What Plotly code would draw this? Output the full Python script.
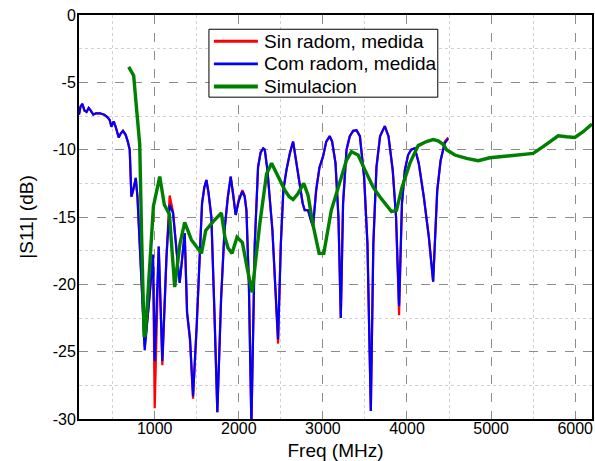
import plotly.graph_objects as go

# Measured, with radome (blue)
com_f = [100,118,140,165,190,215,240,270,300,350,400,440,465,485,512,536,572,596,623,655,680,703,
         723,745,775,795,822,850,881,930,980,1000,1048,1091,1140,1178,1218,1260,1297,1357,1385,1420,
         1456,1500,1535,1563,1590,1615,1640,1674,1710,1745,1790,1830,1870,1904,1930,1963,2000,2043,
         2070,2091,2120,2150,2190,2229,2260,2290,2309,2340,2400,2440,2467,2500,2530,2567,2610,2646,
         2680,2725,2760,2784,2824,2860,2883,2920,2960,3002,3040,3082,3110,3150,3185,3213,3240,3281,
         3320,3360,3400,3440,3490,3530,3570,3600,3637,3680,3736,3780,3830,3870,3906,3940,3975,4013,
         4050,4093,4140,4200,4260,4311,4360,4400,4450,4490]
com_db = [-7.4,-6.8,-6.6,-7.1,-7.2,-6.9,-7.1,-7.4,-7.3,-7.3,-7.4,-7.6,-7.8,-8.3,-7.9,-8.3,-9.1,-8.8,-8.6,-8.9,-9.4,-10.0,
          -13.5,-13.0,-12.1,-13.5,-17.0,-20.5,-24.9,-21.5,-17.8,-25.7,-17.2,-25.7,-18.0,-14.1,-14.7,-17.5,-19.9,-16.2,-22.1,-24.0,
          -28.3,-23.0,-17.4,-14.0,-12.8,-12.25,-13.2,-15.0,-22.0,-29.5,-21.0,-16.0,-13.5,-12.0,-13.2,-14.85,-13.8,-13.1,
          -13.5,-14.5,-20.0,-30.5,-17.0,-11.3,-10.2,-9.9,-10.0,-11.5,-16.0,-21.0,-24.1,-17.0,-13.0,-11.5,-10.2,-9.4,
          -10.8,-12.5,-14.0,-14.5,-14.5,-15.3,-15.7,-13.0,-11.3,-10.5,-9.4,-9.0,-9.4,-11.0,-15.0,-22.5,-14.0,-10.0,
          -9.0,-8.6,-8.55,-9.0,-12.0,-17.0,-29.4,-17.0,-11.3,-9.0,-8.25,-9.0,-11.5,-15.0,-21.6,-14.0,-11.5,-10.4,
          -10.0,-9.9,-11.0,-13.5,-16.5,-19.8,-13.0,-10.8,-9.5,-9.2]

# Measured, without radome (red)
sin_f = com_f
sin_db = [-7.4,-6.8,-6.6,-7.1,-7.2,-6.9,-7.1,-7.4,-7.3,-7.3,-7.4,-7.6,-7.8,-8.3,-7.9,-8.3,-9.1,-8.8,-8.6,-8.9,-9.4,-10.0,
          -13.5,-13.0,-12.1,-13.5,-17.0,-20.5,-24.6,-21.5,-17.8,-29.2,-17.2,-26.0,-18.0,-13.4,-14.6,-17.5,-19.9,-16.2,-22.1,-24.2,
          -28.5,-23.0,-17.4,-14.0,-12.8,-12.25,-13.2,-15.0,-22.0,-29.5,-21.0,-16.0,-13.5,-12.0,-13.2,-14.85,-13.7,-13.0,
          -13.4,-14.5,-20.0,-30.5,-17.0,-11.3,-10.2,-9.9,-10.0,-11.5,-16.0,-21.0,-24.4,-17.0,-13.0,-11.5,-10.2,-9.4,
          -10.8,-12.5,-14.0,-14.5,-14.5,-15.3,-15.7,-13.0,-11.3,-10.5,-9.4,-9.0,-9.4,-11.0,-15.0,-22.5,-14.0,-10.0,
          -9.0,-8.6,-8.55,-9.0,-12.0,-17.0,-29.4,-17.0,-11.3,-9.0,-8.25,-9.0,-11.5,-15.0,-22.3,-14.0,-11.5,-10.4,
          -10.0,-9.9,-11.0,-13.5,-16.5,-19.8,-13.0,-10.8,-9.4,-9.1]

# Simulation (green)
sim_f = [691,750,785,822,845,875,890,935,985,1060,1115,1175,1238,1300,1357,1437,1500,1556,1607,1700,1793,1835,
         1872,1920,1979,2043,2100,2158,2250,2330,2390,2450,2547,2600,2646,2700,2773,2824,2880,2955,3011,3100,
         3221,3280,3340,3419,3500,3600,3677,3760,3816,3875,3940,4035,4113,4133,4232,4311,4370,4430,4470,4569,
         4708,4846,4985,5184,5342,5500,5619,5798,5897,5996,6095,6200]
sim_db = [-3.85,-4.5,-7.0,-9.6,-16.5,-23.9,-23.7,-19.0,-14.2,-12.0,-14.1,-14.8,-20.2,-17.0,-15.4,-16.7,-17.2,-17.7,-16.0,-15.3,-14.7,-16.5,
          -17.3,-17.7,-16.5,-16.9,-18.8,-20.6,-15.5,-11.8,-11.0,-11.8,-13.0,-13.5,-13.7,-13.3,-12.5,-13.4,-15.5,-17.7,-17.7,-14.5,
          -12.0,-10.8,-10.15,-10.4,-11.5,-12.8,-13.5,-14.2,-14.6,-14.5,-12.8,-11.0,-10.0,-9.7,-9.4,-9.25,-9.34,-9.6,-10.0,-10.4,
          -10.65,-10.82,-10.6,-10.47,-10.33,-10.28,-9.78,-8.97,-9.04,-9.09,-8.67,-8.1]

x_ticks = [1000, 2000, 3000, 4000, 5000, 6000]
y_ticks = [0, -5, -10, -15, -20, -25, -30]

series_names = ["Sin radom, medida", "Com radom, medida", "Simulacion"]
series_colors = ["#ff0000", "#0000ff", "#008000"]
series_widths = [2.2, 2.2, 3.4]

FONT = "Liberation Sans, Arial, sans-serif"

fig = go.Figure()
for f, db, name, col, w in zip([sin_f, com_f, sim_f], [sin_db, com_db, sim_db],
                               series_names, series_colors, series_widths):
    fig.add_trace(go.Scatter(x=f, y=db, mode="lines", name=name,
                             line=dict(color=col, width=w), showlegend=False))

# Legend box drawn in paper coordinates (MATLAB-style compact legend)
shapes = [dict(type="rect", xref="paper", yref="paper", x0=0.2533, x1=0.6994, y0=0.7966, y1=0.9647,
               line=dict(color="black", width=1), fillcolor="white", layer="above")]
annotations = []
leg_y = [0.935, 0.8789, 0.8228]
for yy, name, col, w in zip(leg_y, series_names, series_colors, series_widths):
    shapes.append(dict(type="line", xref="paper", yref="paper", x0=0.263, x1=0.3487, y0=yy, y1=yy,
                       line=dict(color=col, width=w + 0.6), layer="above"))
    annotations.append(dict(xref="paper", yref="paper", x=0.3565, y=yy, xanchor="left", yanchor="middle",
                            text=name, showarrow=False, font=dict(family=FONT, size=19, color="black")))

fig.update_layout(
    width=595, height=461,
    margin=dict(l=79, r=3, t=15, b=42, autoexpand=False),
    paper_bgcolor="white", plot_bgcolor="white",
    font=dict(family=FONT, size=16, color="#000000"),
    showlegend=False,
    shapes=shapes, annotations=annotations,
    xaxis=dict(range=[100, 6200], tickvals=x_ticks, ticktext=[str(v) for v in x_ticks],
               showgrid=True, gridcolor="#8c8c8c", griddash="dash", gridwidth=1,
               minor=dict(tickvals=[500, 1500, 2500, 3500, 4500, 5500], showgrid=True,
                          gridcolor="#d0d0d0", griddash="dot", gridwidth=1),
               showline=True, linecolor="black", linewidth=2, mirror=True,
               zeroline=False, ticks="", automargin=False,
               ticklabelstandoff=-6, ticklabeloverflow="allow",
               tickfont=dict(size=16),
               title=dict(text="Freq (MHz)", font=dict(size=19), standoff=10)),
    yaxis=dict(range=[-30, 0], tickvals=y_ticks, ticktext=[str(v) for v in y_ticks],
               showgrid=True, gridcolor="#8c8c8c", griddash="dash", gridwidth=1,
               minor=dict(tickvals=[-2.5, -7.5, -12.5, -17.5, -22.5, -27.5], showgrid=True,
                          gridcolor="#d0d0d0", griddash="dot", gridwidth=1),
               showline=True, linecolor="black", linewidth=2, mirror=True,
               zeroline=False, ticks="", automargin=False,
               ticklabelstandoff=-2, ticklabeloverflow="allow",
               tickfont=dict(size=16),
               title=dict(text="|S11| (dB)", font=dict(size=19), standoff=14)),
)

# remove the browser's default 8px body margin so the 595x461 figure fills the window exactly
fig.write_html("out.html", config={"displayModeBar": False},
               post_script="document.body.style.margin='0px';document.body.style.overflow='hidden';")
